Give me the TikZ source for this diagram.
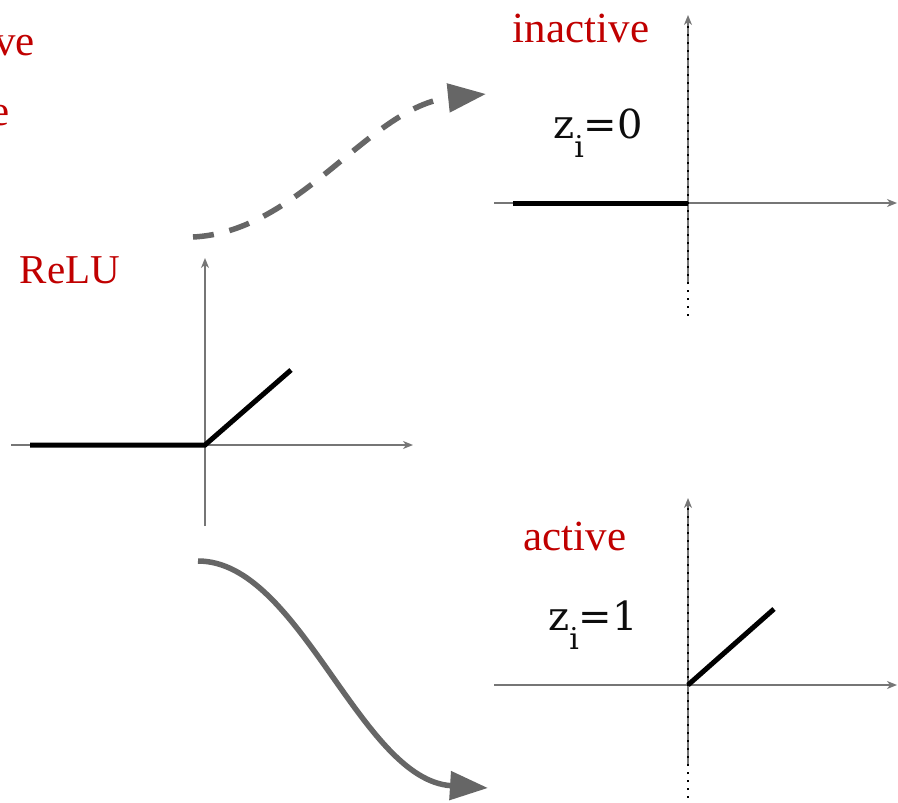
\documentclass[tikz,border=0pt]{standalone}
\usepackage{fontspec}
\setmainfont{Liberation Serif}
\newfontfamily\zfont{DejaVu Serif}
\usetikzlibrary{arrows.meta}
\definecolor{myred}{RGB}{192,0,0}
\definecolor{axgray}{RGB}{118,118,118}
\definecolor{arrgray}{RGB}{102,102,102}
\newcommand{\zsub}{\raisebox{-0.48em}{\fontsize{30}{32}\selectfont i}}
\tikzset{
  redlabel/.style={inner sep=0pt, text=myred, font=\fontsize{43}{50}\selectfont},
  relulabel/.style={inner sep=0pt, text=myred, font=\fontsize{41}{48}\selectfont},
  zlabel/.style={inner sep=0pt, text=black!95, font=\zfont\fontsize{40}{46}\selectfont},
  axis/.style={draw=axgray, line width=1.5pt, -{Stealth[length=10pt,width=8pt,inset=3pt]}},
  dotline/.style={draw=black, line width=2pt, dash pattern=on 2pt off 6pt},
  fn/.style={draw=black, line width=5pt},
  flow/.style={draw=arrgray, line width=5.5pt, -{Triangle[length=38pt,width=28pt]}},
}
\begin{document}
\begin{tikzpicture}[x=1pt,y=-1pt]
\useasboundingbox (0,0) rectangle (898,803);
\clip (0,0) rectangle (898,803);
% cropped labels at left edge
\node[redlabel, anchor=base east] (cropA) at (35,55) {inactive};
\node[redlabel, anchor=base east] (cropB) at (10,125) {active};
% ReLU plot
\coordinate (rL) at (11,445);
\coordinate (rR) at (413,445);
\coordinate (rB) at (205,526);
\coordinate (rT) at (205,258);
\draw[axis] (rL) -- (rR);
\draw[axis] (rB) -- (rT);
\coordinate (rf1) at (30,445);
\coordinate (rf2) at (205,445);
\coordinate (rf3) at (291,370);
\draw[fn, line join=miter] (rf1) -- (rf2) -- (rf3);
\node[relulabel, anchor=base] (relu) at (70,283) {ReLU};
% inactive plot
\coordinate (iL) at (494,203);
\coordinate (iR) at (897,203);
\coordinate (iB) at (688,283);
\coordinate (iT) at (688,15);
\coordinate (iD) at (688,316);
\draw[axis] (iL) -- (iR);
\draw[axis] (iB) -- (iT);
\draw[dotline] (iD) -- ([yshift=-8pt]iT);
\coordinate (if1) at (513,203);
\coordinate (if2) at (688,203);
\draw[fn] (if1) -- (if2);
\node[redlabel, anchor=base] (inact) at (581,42) {inactive};
\node[zlabel, anchor=base] (z0) at (598,138) {z\zsub=0};
% active plot
\coordinate (aL) at (494,685);
\coordinate (aR) at (897,685);
\coordinate (aB) at (688,765);
\coordinate (aT) at (688,498);
\coordinate (aD) at (688,798);
\draw[axis] (aL) -- (aR);
\draw[axis] (aB) -- (aT);
\draw[dotline] (aD) -- ([yshift=-8pt]aT);
\coordinate (af1) at (688,685);
\coordinate (af2) at (774,609);
\draw[fn] (af1) -- (af2);
\node[redlabel, anchor=base] (act) at (575,550) {active};
\node[zlabel, anchor=base] (z1) at (593,630) {z\zsub=1};
% flow arrows
\coordinate (ts) at (193,237);
\coordinate (te) at (486,94);
\draw[flow, dash pattern=on 21pt off 16pt] (ts) .. controls (300,232) and (370,106) .. (te);
\coordinate (bs) at (198,561);
\coordinate (be) at (488,788);
\draw[flow] (bs) .. controls (300,561) and (360,780) .. (be);
\end{tikzpicture}
\end{document}
